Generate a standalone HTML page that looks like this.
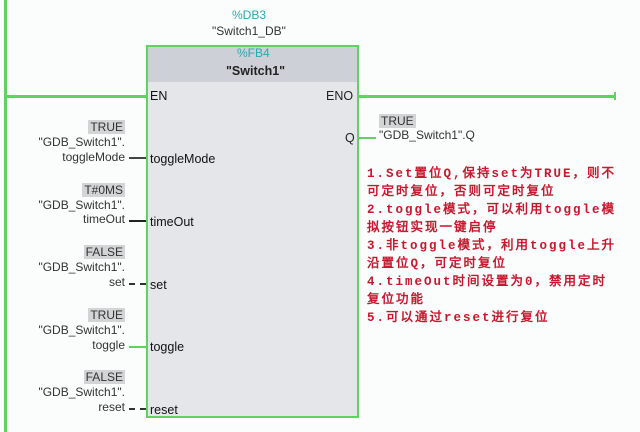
<!DOCTYPE html>
<html><head><meta charset="utf-8"><style>
body{margin:0;width:640px;height:432px;background:#fbfcfc;position:relative;overflow:hidden;font-family:"Liberation Sans","Noto Sans CJK SC",sans-serif;color:#222}
.a{position:absolute;white-space:nowrap}
.g{position:absolute;background:#5fd25f}
.r{right:515px;text-align:right;font-size:12px;color:#333}
.b{background:#d2d4d6;padding:0 2px;font-size:12px;color:#333}
.p{left:150px;font-size:12.5px;color:#111}
.t{left:367px;font-size:12.5px;color:#c8182e;font-weight:bold;letter-spacing:2px;font-family:"Liberation Mono","WenQuanYi Zen Hei",monospace}
</style></head><body>
<div class="g" style="left:4px;top:0;width:3px;height:432px"></div>
<div class="a" style="left:232px;top:8px;font-size:12px;color:#2aa8b0">%DB3</div>
<div class="a" style="left:212px;top:24px;font-size:12px;color:#333">"Switch1_DB"</div>
<div class="a" style="left:146px;top:45px;width:213px;height:373px;background:#e4e6ea;border:2px solid #5fd25f;box-sizing:border-box"></div>
<div class="a" style="left:148px;top:47px;width:209px;height:35px;background:#cdd0d6"></div>
<div class="a" style="left:237px;top:46px;font-size:12px;color:#2aa8b0">%FB4</div>
<div class="a" style="left:226px;top:64px;font-size:12.5px;font-weight:bold;color:#222">"Switch1"</div>
<div class="g" style="left:5px;top:95px;width:141px;height:3px"></div>
<div class="g" style="left:359px;top:95px;width:256px;height:3px"></div>
<div class="g" style="left:614px;top:92px;width:2px;height:8px"></div>
<div class="a p" style="top:89px">EN</div>
<div class="a" style="left:326px;top:89px;font-size:12.5px">ENO</div>
<div class="a" style="left:345px;top:131px;font-size:12.5px">Q</div>
<div class="g" style="left:359px;top:137px;width:17px;height:2px"></div>
<div class="a b" style="left:379px;top:114px">TRUE</div>
<div class="a" style="left:379px;top:128px;font-size:12px;color:#333">"GDB_Switch1".Q</div>

<div class="a r" style="top:120px"><span class="b">TRUE</span></div>
<div class="a r" style="top:135px">"GDB_Switch1".</div>
<div class="a r" style="top:150px">toggleMode</div>
<div class="a" style="left:129px;top:157px;width:17px;height:2px;background:#444"></div>
<div class="a p" style="top:152px">toggleMode</div>

<div class="a r" style="top:183px"><span class="b">T#0MS</span></div>
<div class="a r" style="top:198px">"GDB_Switch1".</div>
<div class="a r" style="top:212px">timeOut</div>
<div class="a" style="left:129px;top:220px;width:17px;height:2px;background:#222"></div>
<div class="a p" style="top:215px">timeOut</div>

<div class="a r" style="top:245px"><span class="b">FALSE</span></div>
<div class="a r" style="top:260px">"GDB_Switch1".</div>
<div class="a r" style="top:275px">set</div>
<div class="a" style="left:129px;top:283px;width:17px;height:0;border-top:2px dashed #333"></div>
<div class="a p" style="top:278px">set</div>

<div class="a r" style="top:308px"><span class="b">TRUE</span></div>
<div class="a r" style="top:323px">"GDB_Switch1".</div>
<div class="a r" style="top:338px">toggle</div>
<div class="a" style="left:129px;top:346px;width:17px;height:2px;background:#5fd25f"></div>
<div class="a p" style="top:340px">toggle</div>

<div class="a r" style="top:370px"><span class="b">FALSE</span></div>
<div class="a r" style="top:385px">"GDB_Switch1".</div>
<div class="a r" style="top:400px">reset</div>
<div class="a" style="left:129px;top:408px;width:17px;height:0;border-top:2px dashed #333"></div>
<div class="a p" style="top:403px">reset</div>

<div class="a t" style="top:162px">1.Set置位Q,保持set为TRUE，则不</div>
<div class="a t" style="top:180px">可定时复位，否则可定时复位</div>
<div class="a t" style="top:198px">2.toggle模式，可以利用toggle模</div>
<div class="a t" style="top:216px">拟按钮实现一键启停</div>
<div class="a t" style="top:234px">3.非toggle模式，利用toggle上升</div>
<div class="a t" style="top:252px">沿置位Q，可定时复位</div>
<div class="a t" style="top:270px">4.timeOut时间设置为0，禁用定时</div>
<div class="a t" style="top:288px">复位功能</div>
<div class="a t" style="top:306px">5.可以通过reset进行复位</div>
</body></html>
